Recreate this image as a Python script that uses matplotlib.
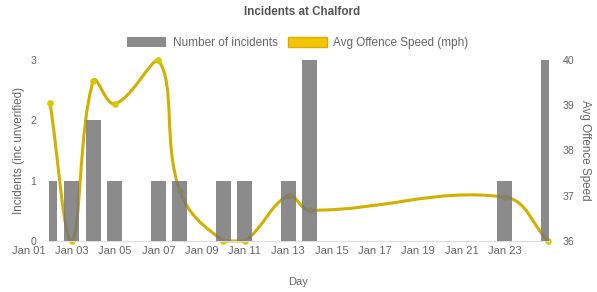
import numpy as np
import matplotlib
matplotlib.use("Agg")
import matplotlib.pyplot as plt
from matplotlib.path import Path
from matplotlib.patches import PathPatch, Patch

plt.rcParams['font.family'] = ['Liberation Sans', 'DejaVu Sans']

# day of January
days = [2, 3, 4, 5, 7, 8, 10, 11, 13, 14, 23, 25]
incidents = [1, 1, 2, 1, 1, 1, 1, 1, 1, 3, 1, 3]
avg_speed = [39.05, 36.0, 39.54, 39.03, 40.0, 37.1, 36.0, 36.0, 37.0, 36.68, 36.97, 36.0]
tick_days = [1, 3, 5, 7, 9, 11, 13, 15, 17, 19, 21, 23]
tick_labels = ["Jan 01", "Jan 03", "Jan 05", "Jan 07", "Jan 09", "Jan 11",
               "Jan 13", "Jan 15", "Jan 17", "Jan 19", "Jan 21", "Jan 23"]

GREY_TXT = '#666666'
BAR_COL = '#777777'
LINE_COL = '#d2b000'
FILL_COL = '#f4c400'

W, H = 597, 292
fig = plt.figure(figsize=(W / 100, H / 100), dpi=100)
ax = fig.add_axes([49 / W, 1 - 241 / H, 500 / W, 181 / H])
ax2 = ax.twinx()

px_per_day = 498 / 23
ax.set_xlim(days[0] - 1 / px_per_day, days[-1] + 1 / px_per_day)
ax.set_ylim(0, 3)
ax2.set_ylim(36, 40)

# bars on top of the line (Chart.js draws first dataset last)
ax.set_zorder(2)
ax.patch.set_visible(False)
ax.bar(days, incidents, width=0.69, color=BAR_COL, alpha=0.85, zorder=3)

# Chart.js style bezier spline (tension 0.4) computed in pixel space
fig.canvas.draw()
pts = ax2.transData.transform(np.column_stack([days, avg_speed]))
bb = ax2.bbox
t = 0.4
n = len(pts)
cp_in, cp_out = [], []
for i in range(n):
    prev = pts[max(i - 1, 0)]
    cur = pts[i]
    nxt = pts[min(i + 1, n - 1)]
    d01 = np.hypot(*(cur - prev))
    d12 = np.hypot(*(nxt - cur))
    tot = d01 + d12
    s01 = d01 / tot if tot else 0
    s12 = d12 / tot if tot else 0
    a = cur - t * s01 * (nxt - prev)
    b = cur + t * s12 * (nxt - prev)
    for c in (a, b):
        c[0] = min(max(c[0], bb.x0), bb.x1)
        c[1] = min(max(c[1], bb.y0), bb.y1)
    cp_in.append(a)
    cp_out.append(b)

verts = [pts[0]]
codes = [Path.MOVETO]
for i in range(n - 1):
    verts += [cp_out[i], cp_in[i + 1], pts[i + 1]]
    codes += [Path.CURVE4] * 3
verts = ax2.transData.inverted().transform(np.array(verts))
ax2.add_patch(PathPatch(Path(verts, codes), fill=False, edgecolor=LINE_COL,
                        lw=2.2, zorder=2, clip_on=False))
ax2.scatter(days, avg_speed, s=14, color='#d8c800', zorder=3, clip_on=False)

# axes styling
for a_ in (ax, ax2):
    for s in a_.spines.values():
        s.set_visible(False)
    a_.tick_params(length=0, colors=GREY_TXT, labelsize=7.6)
ax.spines['bottom'].set_visible(True)
ax.spines['bottom'].set_color('#dddddd')
ax.set_yticks([0, 1, 2, 3])
ax2.set_yticks([36, 37, 38, 39, 40])
ax.tick_params(axis='y', pad=9)
ax2.tick_params(axis='y', pad=10)
ax.set_xticks([])

# x labels (Jan 01 sits left of the plot area, as in the original)
for d, lab in zip(tick_days, tick_labels):
    ax.text(d, -10 / 60.33, lab, ha='center', va='center',
            fontsize=8.0, color=GREY_TXT, clip_on=False)

ax.set_ylabel("Incidents (inc unverified)", fontsize=8.4, color=GREY_TXT, labelpad=4)
ax2.set_ylabel("Avg Offence Speed", fontsize=8.4, color=GREY_TXT, rotation=270, labelpad=12)
fig.text(298 / W, 1 - 282 / H, "Day", ha='center', va='center', fontsize=8.0, color=GREY_TXT)
fig.text(302 / W, 1 - 12 / H, "Incidents at Chalford", ha='center', va='center',
         fontsize=8.4, fontweight='bold', color='#555555')

handles = [Patch(facecolor=BAR_COL, alpha=0.85, edgecolor='none'),
           Patch(facecolor=FILL_COL, edgecolor=LINE_COL, lw=1)]
fig.legend(handles, ["Number of incidents", "Avg Offence Speed (mph)"], loc='center',
           bbox_to_anchor=(298 / W, 1 - 43 / H), ncol=2, frameon=False, fontsize=8.5,
           labelcolor=GREY_TXT, handlelength=3.3, handleheight=1.0, handletextpad=0.55,
           columnspacing=0.85)

fig.savefig("out.png", dpi=100)
